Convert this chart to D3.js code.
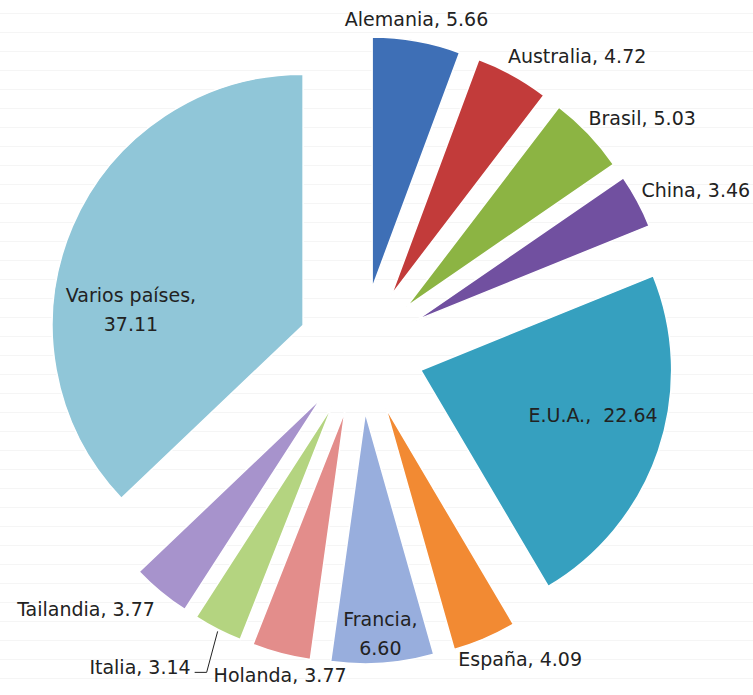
<!DOCTYPE html>
<html lang="es">
<head>
  <meta charset="UTF-8">
  <title>Participación por país</title>
  <script src="https://d3js.org/d3.v7.min.js"></script>
  <style>
    body {
      margin: 0;
      background-color: #fff;
    }
    svg text {
      font-family: 'DejaVu Sans', sans-serif;
      font-size: 19px;
      fill: #222;
      white-space: pre;
    }
  </style>
</head>
<body>
<div id="chart"></div>

<script>
  // datos (porcentaje por país)
  const countries = ["Alemania", "Australia", "Brasil", "China", "E.U.A.", "España",
                     "Francia", "Holanda", "Italia", "Tailandia", "Varios países"];
  const shares = [5.66, 4.72, 5.03, 3.46, 22.64, 4.09, 6.60, 3.77, 3.14, 3.77, 37.11];
  const colors = ["#3e6fb6", "#c23b3a", "#8cb443", "#7150a0", "#36a0bf", "#f28a33",
                  "#98aedd", "#e38d8b", "#b4d480", "#a793cc", "#90c6d8"];

  const data = countries.map((c, i) => ({ entity: c, share: shares[i] }));

  const width = 753, height = 695;
  const cx = 361, cy = 350;
  const radius = 251;
  const explode = 63;

  // etiquetas dentro de la porción: fracción del radio y giro respecto a la bisectriz
  const insideLabels = {
    "E.U.A.": { r: 0.71, turn: -4, lines: 1 },
    "Francia": { r: 0.87, turn: 0, lines: 2 },
    "Varios países": { r: 0.69, turn: -17, lines: 2 }
  };
  // etiquetas desplazadas con línea guía
  const leaderLabels = ["Italia"];

  const svg = d3.select("#chart")
    .append("svg")
    .attr("width", width)
    .attr("height", height);

  // líneas tenues del fondo
  svg.append("g")
    .selectAll("line")
    .data(d3.range(13, height, 19))
    .join("line")
    .attr("x1", 0).attr("x2", width)
    .attr("y1", d => d + 0.5).attr("y2", d => d + 0.5)
    .attr("stroke", "#f5f5f5")
    .attr("stroke-width", 1);

  const color = d3.scaleOrdinal()
    .domain(countries)
    .range(colors);

  const pie = d3.pie()
    .sort(null)
    .value(d => d.share);

  const arc = d3.arc()
    .innerRadius(0)
    .outerRadius(radius);

  const slices = pie(data).map(d => {
    const mid = (d.startAngle + d.endAngle) / 2;
    d.ux = Math.sin(mid);
    d.uy = -Math.cos(mid);
    d.mid = mid;
    return d;
  });

  const g = svg.append("g")
    .attr("transform", `translate(${cx},${cy})`);

  g.selectAll("path")
    .data(slices)
    .join("path")
    .attr("transform", d => `translate(${d.ux * explode},${d.uy * explode})`)
    .attr("d", arc)
    .attr("fill", d => color(d.data.entity))
    .attr("stroke", "#fff")
    .attr("stroke-width", 1.5);

  const labelText = d => d.data.entity + (d.data.entity === "E.U.A." ? ",  " : ", ") + d.data.share.toFixed(2);

  slices.forEach(d => {
    const name = d.data.entity;
    const inside = insideLabels[name];

    if (inside) {
      const a = d.mid + inside.turn * Math.PI / 180;
      const r = radius * inside.r;
      const x = d.ux * explode + Math.sin(a) * r;
      const y = d.uy * explode - Math.cos(a) * r;
      const t = g.append("text")
        .attr("text-anchor", "middle")
        .attr("fill", "#1e2a38");
      if (inside.lines === 2) {
        t.append("tspan").attr("x", x).attr("y", y - 5).text(name + ",");
        t.append("tspan").attr("x", x).attr("y", y + 24).text(d.data.share.toFixed(2));
      } else {
        t.attr("x", x).attr("y", y + 7).text(labelText(d));
      }
      return;
    }

    // punto justo fuera del borde exterior
    const px = d.ux * (explode + radius);
    const py = d.uy * (explode + radius);

    if (leaderLabels.includes(name)) {
      const ex = px - 11, ey = py + 43;
      g.append("polyline")
        .attr("points", `${px},${py + 2} ${ex},${ey} ${ex - 12},${ey}`)
        .attr("fill", "none")
        .attr("stroke", "#222")
        .attr("stroke-width", 1);
      g.append("text")
        .attr("x", ex - 16)
        .attr("y", ey + 2)
        .attr("text-anchor", "end")
        .text(labelText(d));
      return;
    }

    const t = g.append("text")
      .attr("text-anchor", "middle")
      .text(labelText(d));
    const w = t.node().getComputedTextLength();
    const f = Math.max(0, Math.min(1, (Math.abs(d.ux) - 0.25) / 0.25)) * Math.sign(d.ux);
    const x = px + f * w / 2 + (d.ux < -0.5 ? -6 : d.ux > 0.85 ? 4 : 0);
    const y = py + d.uy * 20 + Math.sign(d.uy) * 2;
    t.attr("x", x).attr("y", y + 7);
  });
</script>
</body>
</html>
